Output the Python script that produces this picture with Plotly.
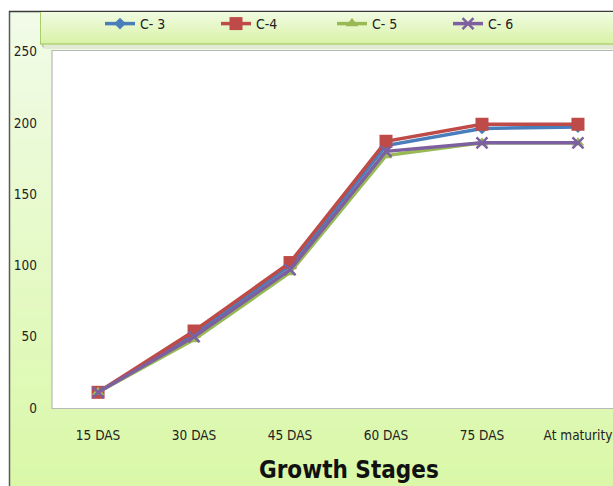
import plotly.graph_objects as go

stages = ["15 DAS", "30 DAS", "45 DAS", "60 DAS", "75 DAS", "At maturity"]
c3 = [11, 52, 100, 184, 196, 197]
c4 = [11, 54, 102, 187, 199, 199]
c5 = [11, 48, 95, 177, 186, 186]
c6 = [11, 50, 97, 180, 186, 186]
series_names = ["C- 3", "C-4", "C- 5", "C- 6"]
y_ticks = [0, 50, 100, 150, 200, 250]

W, H = 613, 486
FONT = "Liberation Sans Narrow, DejaVu Sans Condensed, Arial Narrow, sans-serif"

styles = [
    dict(color="#4a7ebb", symbol="diamond", size=9, lw=0),
    dict(color="#be4b48", symbol="square", size=13, lw=0),
    dict(color="#98b954", symbol="triangle-up", size=11, lw=0),
    dict(color="#7d60a0", symbol="x-thin", size=11, lw=2.5),
]

fig = go.Figure()
for name, vals, st in zip(series_names, [c3, c4, c5, c6], styles):
    fig.add_trace(go.Scatter(
        x=stages, y=vals, name=name, mode="lines+markers",
        line=dict(color=st["color"], width=3.5),
        marker=dict(symbol=st["symbol"], size=st["size"], color=st["color"],
                    line=dict(color=st["color"], width=st["lw"])),
    ))


def px(x):
    return x / W


def py(y):
    return 1 - y / H


def lerp(c1, c2, t):
    a = [int(c1[i:i + 2], 16) for i in (1, 3, 5)]
    b = [int(c2[i:i + 2], 16) for i in (1, 3, 5)]
    return "#%02x%02x%02x" % tuple(round(a[k] + (b[k] - a[k]) * t) for k in range(3))


shapes = []
# chart area gradient background
top, bottom, n = 11, H, 48
for i in range(n):
    y0 = top + (bottom - top) * i / n
    y1 = top + (bottom - top) * (i + 1) / n + 0.6
    shapes.append(dict(type="rect", xref="paper", yref="paper", layer="below",
                       x0=px(9), x1=1, y0=py(y1), y1=py(y0), line=dict(width=0),
                       fillcolor=lerp("#f1fbe8", "#daf8a8", i / (n - 1))))
# chart frame (left and top edges)
shapes.append(dict(type="line", xref="paper", yref="paper", layer="below",
                   x0=px(9.5), x1=px(9.5), y0=0, y1=py(11), line=dict(color="#5a5a5a", width=1.5)))
shapes.append(dict(type="line", xref="paper", yref="paper", layer="below",
                   x0=px(9), x1=1, y0=py(11.5), y1=py(11.5), line=dict(color="#3a3a3a", width=1.5)))
# legend band shadow
for i, c in enumerate(["#b8c2a8", "#cfd8c0", "#e2ead6"]):
    shapes.append(dict(type="rect", xref="paper", yref="paper", layer="below",
                       x0=px(42 + i), x1=1, y0=py(47 + i), y1=py(44),
                       line=dict(width=0), fillcolor=c))
# legend band gradient
lt, lb, m = 12, 44, 16
for i in range(m):
    y0 = lt + (lb - lt) * i / m
    y1 = lt + (lb - lt) * (i + 1) / m + 0.6
    shapes.append(dict(type="rect", xref="paper", yref="paper", layer="below",
                       x0=px(40), x1=1, y0=py(y1), y1=py(y0), line=dict(width=0),
                       fillcolor=lerp("#f0fbe0", "#d9f2a8", i / (m - 1))))
shapes.append(dict(type="line", xref="paper", yref="paper", layer="below",
                   x0=px(40.5), x1=px(40.5), y0=py(44), y1=py(12), line=dict(color="#a9cf6a", width=1)))
shapes.append(dict(type="line", xref="paper", yref="paper", layer="below",
                   x0=px(40), x1=1, y0=py(44), y1=py(44), line=dict(color="#9cc45a", width=1.2)))
# plot area
shapes.append(dict(type="rect", xref="paper", yref="paper", layer="below",
                   x0=px(52), x1=1.01, y0=py(408.5), y1=py(50.5),
                   fillcolor="white", line=dict(color="#b8b8b8", width=1.2)))

fig.update_layout(
    width=W, height=H,
    margin=dict(l=0, r=0, t=0, b=0, autoexpand=False),
    paper_bgcolor="white",
    plot_bgcolor="rgba(0,0,0,0)",
    shapes=shapes,
    font=dict(family=FONT, size=14, color="#222222"),
    showlegend=True,
    legend=dict(
        orientation="h", x=px(100), xanchor="left", y=py(24), yanchor="middle",
        bgcolor="rgba(0,0,0,0)", font=dict(size=14, color="#222222"),
        entrywidth=71, entrywidthmode="pixels", itemwidth=30, tracegroupgap=0,
    ),
    xaxis=dict(
        domain=[px(52), 1], range=[-0.48, 5.365], type="category",
        categoryorder="array", categoryarray=stages,
        showgrid=False, zeroline=False, showline=False, ticks="",
        ticklabelstandoff=17, tickfont=dict(size=13.5),
    ),
    yaxis=dict(
        domain=[py(408), py(51.5)], range=[0, 250], tickvals=y_ticks,
        showgrid=False, zeroline=False, showline=False, ticks="",
        ticklabelstandoff=14, tickfont=dict(size=13.5),
    ),
    annotations=[dict(
        text="<b>Growth Stages</b>", xref="paper", yref="paper",
        x=px(349), y=py(470), xanchor="center", yanchor="middle", showarrow=False,
        font=dict(family=FONT, size=24, color="#111111"),
    )],
)

fig.write_html("out.html")
